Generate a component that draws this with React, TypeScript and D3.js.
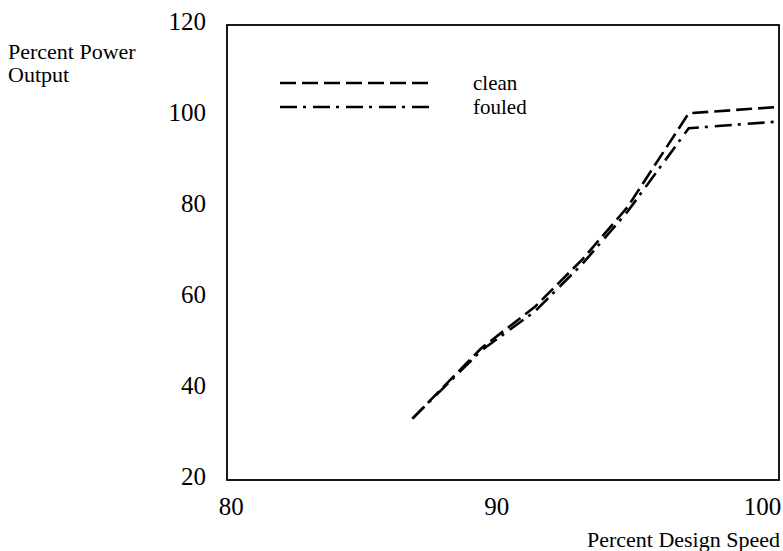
import React from 'react';
import * as d3 from 'd3';

// values
const speed = [86.9, 89.5, 91.5, 93.3, 95.0, 97.3, 100.7];
const cleanPower = [33.5, 49, 58, 68.5, 80, 100.6, 102];
const fouledPower = [33.5, 48.5, 57, 67.5, 79, 97.3, 98.8];
const speedTicks = [80, 90, 100];
const powerTicks = [20, 40, 60, 80, 100, 120];
const seriesNames = ['clean', 'fouled'];

const W = 783;
const H = 551;
const box = { left: 227, right: 779, top: 25, bottom: 480 };
const font = '"Liberation Serif", "Times New Roman", serif';

const x = d3.scaleLinear().domain([79.92, 100.7]).range([box.left, box.right]);
const y = d3.scaleLinear().domain([20, 120]).range([box.bottom, box.top]);

const line = d3.line<number>()
    .x((d, i) => x(speed[i]))
    .y(d => y(d));

const dashes = ['16 6', '17 6 3 7'];

export default function App() {
    const series = [cleanPower, fouledPower];
    return (
        <svg width={W} height={H} style={{ position: 'absolute', left: 0, top: 0, background: '#fff' }}
            fontFamily={font}>
            <rect x={box.left} y={box.top} width={box.right - box.left} height={box.bottom - box.top}
                fill="none" stroke="#000" strokeWidth={1.8} />

            {powerTicks.map(t => (
                <text key={t} x={206} y={y(t) + 5} fontSize={25} textAnchor="end">{t}</text>
            ))}
            {speedTicks.map(t => (
                <text key={t} x={x(t) + 2} y={515} fontSize={25} textAnchor="middle">{t}</text>
            ))}

            <text x={8} y={59} fontSize={22}>Percent Power</text>
            <text x={8} y={82} fontSize={22}>Output</text>
            <text x={780} y={547} fontSize={22} textAnchor="end">Percent Design Speed</text>

            {series.map((s, i) => (
                <path key={i} d={line(s) || ''} fill="none" stroke="#000" strokeWidth={2.6}
                    strokeDasharray={dashes[i]} />
            ))}

            {seriesNames.map((n, i) => (
                <g key={n}>
                    <line x1={280} x2={432} y1={83 + i * 24} y2={83 + i * 24} stroke="#000"
                        strokeWidth={2.6} strokeDasharray={dashes[i]} />
                    <text x={473} y={90 + i * 24} fontSize={21}>{n}</text>
                </g>
            ))}
        </svg>
    );
}
